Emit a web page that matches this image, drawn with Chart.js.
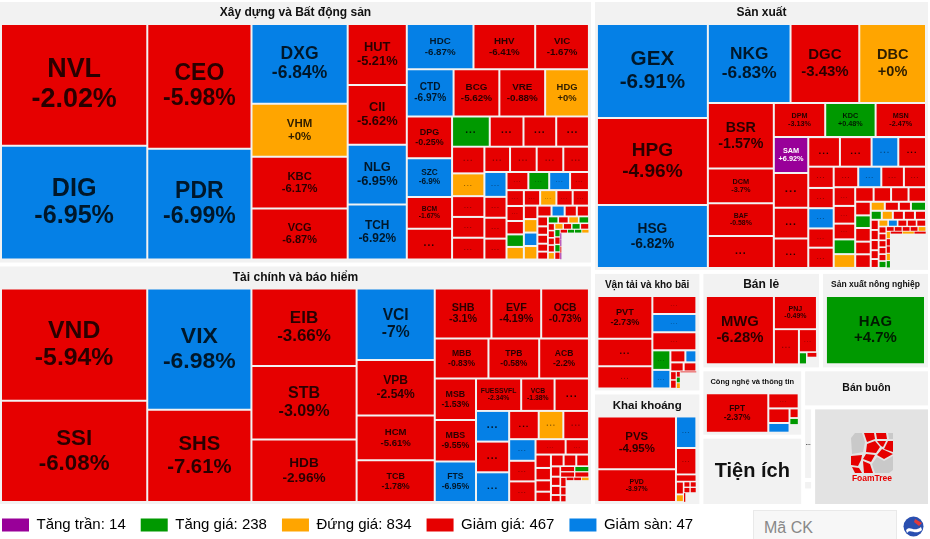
<!DOCTYPE html>
<html>
<head>
<meta charset="utf-8">
<title>Treemap</title>
<script src="https://cdn.jsdelivr.net/npm/chart.js@4/dist/chart.umd.min.js"></script>
<style>
  html, body { margin: 0; padding: 0; background: #fff; overflow: hidden; }
  #wrap { position: relative; width: 930px; height: 539px; font-family: "Liberation Sans", Arial, sans-serif; }
  #search { position: absolute; left: 753px; top: 510px; width: 132px; height: 29px; padding-left: 10px; line-height: 33px;
            background: #f7f7f7; border: 1px solid #e9e9e9; border-bottom: 0; box-sizing: content-box; color: #888; font-size: 16px; }
  #brand { position: absolute; left: 903px; top: 516px; }
  #foam { position: absolute; left: 848px; top: 432px; width: 48px; text-align: center; }
  #foam div { color: #e60000; font-size: 8.5px; font-weight: bold; line-height: 9px; margin-top: 0; }
</style>
</head>
<body>
<div id="wrap">
  <canvas id="chart" width="930" height="539"></canvas>
  <div id="foam">
    <svg width="44" height="42" viewBox="0 0 44 42" style="display:block;margin:0 auto">
      <path d="M5 1 L12 1 L15 10 L13 20 L2 22 L1 6 Z" fill="#c9c9c9"/>
      <path d="M14 1 L24 1 L25 7 L17 10 Z M26 1 L36 1 L37 7 L27 7 Z" fill="#e60000"/>
      <path d="M38 1 L43 1 L43 7 L39 7 Z" fill="#c9c9c9"/>
      <path d="M17 12 L25 9 L30 15 L26 21 L16 20 Z M27 9 L36 9 L33 15 L31 14 Z M38 9 L43 9 L43 20 L34 17 Z" fill="#e60000"/>
      <path d="M32 17 L43 22 L34 27 L27 23 Z M16 22 L25 23 L21 30 L13 27 Z M1 24 L12 23 L11 28 L8 34 L1 33 Z M13 29 L20 32 L23 41 L14 41 Z" fill="#e60000"/>
      <path d="M27 25 L34 29 L43 24 L43 38 L39 41 L25 41 L22 32 Z" fill="#c9c9c9"/>
      <path d="M2 35 L9 36 L12 41 L5 41 Z" fill="#e60000"/>
    </svg>
    <div>FoamTree</div>
  </div>
  <div id="search">Mã CK</div>
  <svg id="brand" width="21" height="21" viewBox="0 0 21 21">
    <circle cx="10.5" cy="10.5" r="10" fill="#2a4fb0"/>
    <path d="M3 14 C8 9 10 17 18 11 L19 14 C12 20 8 12 4 17 Z" fill="#fff"/>
    <path d="M12 3 L19 7 L16 10 L11 6 Z" fill="#e03a3a"/>
  </svg>
</div>
<script>
// d = giam, f = giam san, u = tang, n = dung, c = tang tran, - = not drawn
const legendLabels = ['Tăng trần', 'Tăng giá', 'Đứng giá', 'Giảm giá', 'Giảm sàn'];
const legendCounts = [14, 238, 834, 467, 47];
const legendCodes = ['c', 'u', 'n', 'd', 'f'];

const sectorNames = ['Xây dựng và Bất động sản', 'Tài chính và báo hiểm', 'Sản xuất', 'Vận tải và kho bãi', 'Khai khoáng',
  'Bán lẻ', 'Sản xuất nông nghiệp', 'Công nghệ và thông tin', 'Tiện ích', 'Bán buôn', '...', '', '', ''];
const sectorWeights = [[157378, 143693], [91664], [13074, 12315], [11651, 10628], [6851, 7054], [4826], [725, 105, 155], [11525]];

const xdNames = ['NVL', 'DIG', 'CEO', 'PDR', 'DXG', 'VHM', 'KBC', 'VCG', 'HUT', 'CII', 'NLG', 'TCH', 'HDC', 'HHV', 'VIC', 'CTD', 'BCG', 'VRE', 'HDG', 'DPG', 'SZC', 'BCM'];
const xdChanges = [-2.02, -6.95, -5.98, -6.99, -6.84, 0, -6.17, -6.87, -5.21, -5.62, -6.95, -6.92, -6.87, -6.41, -1.67, -6.97, -5.62, -0.88, 0, -0.25, -6.9, -1.67];
const xdStatus = 'df df fndd ddff fdd fddn dfdd uddd dnddd dddd fddd dufd dddun dndd dnfn dfdd ddddd udnu ddddn ndud udud duun ccdc-';
const xdWeights = [[17812, 16644], [13000, 11544], [7680, 5088, 4992, 4896], [3600, 3540, 3540, 3245],
  [3015, 2790, 2430], [2209, 2162, 2162, 2068], [1890, 1755, 1440, 1395], [1140, 1020, 990, 990],
  [864, 736, 672, 672, 704], [650, 675, 675, 650], [550, 462, 462, 462], [396, 378, 378, 342],
  [275, 261, 232, 218, 218], [252, 252, 252, 252], [182, 182, 182, 182], [154, 143, 132, 132],
  [105, 90, 95, 84, 84], [70, 70, 70, 70], [48, 48, 48, 48, 48], [52, 52, 52, 52], [42, 42, 42, 42], [26, 26, 26, 26], [8, 8, 8, 8], [728]];

const tcNames = ['VND', 'SSI', 'VIX', 'SHS', 'EIB', 'STB', 'HDB', 'VCI', 'VPB', 'HCM', 'TCB', 'SHB', 'EVF', 'OCB', 'MBB', 'TPB', 'ACB', 'MSB', 'MBS', 'FTS', 'FUESSVFL', 'VCB'];
const tcChanges = [-5.94, -6.08, -6.98, -7.61, -3.66, -3.09, -2.96, -7, -2.54, -5.61, -1.78, -3.1, -4.19, -0.73, -0.83, -0.58, -2.2, -1.53, -9.55, -6.95, -2.34, -1.38];
const tcStatus = 'dd fd ddd fddd ddd ddd ddf ddd fdf dnd fdd dd dddd ddd dddd du dd ddd ddn-';
const tcWeights = [[16498, 14892], [12688, 9672], [8190, 7770, 6615], [5616, 4368, 3510, 3276],
  [2850, 2500, 2400], [2160, 2040, 2000], [1722, 1722, 1681], [1472, 1088, 1120], [1023, 1023, 990],
  [840, 700, 728], [572, 546, 546], [465, 360], [208, 192, 176, 160], [150, 150, 150], [99, 88, 88, 66],
  [78, 78], [78, 78], [56, 48, 40], [25, 25, 25], [490]];

const sxNames = ['GEX', 'HPG', 'HSG', 'NKG', 'DGC', 'DBC', 'BSR', 'DCM', 'BAF', '...', 'DPM', 'KDC', 'MSN', 'SAM'];
const sxChanges = [-6.91, -4.96, -6.82, -6.83, -3.43, 0, -1.57, -3.7, -0.58, null, -3.13, 0.48, -2.47, 6.92];
const sxStatus = 'fdf fdn dddd dud cddd ddfd ddfdd dfdd dddun dddd duddd nddu unddd ddddd nfddd dddddu ddddn nddnu dnd-';
const sxWeights = [[10340, 9570, 6930], [6474, 5382, 5226], [4290, 2275, 2145, 2080], [1742, 1708, 1708],
  [1224, 1190, 1054, 1003], [928, 928, 783, 812], [536, 510, 510, 485, 510], [500, 470, 460, 450],
  [399, 378, 336, 315, 294], [266, 252, 252, 252], [210, 195, 210, 195, 210], [126, 126, 108, 135],
  [99, 99, 99, 99, 99], [80, 80, 80, 70, 70], [63, 63, 63, 63, 63], [52, 52, 52, 52, 52, 52],
  [38, 38, 38, 38, 38], [30, 30, 30, 30, 30], [30, 30, 30], [1200]];

const vtNames = ['PVT'];
const vtChanges = [-2.73];
const vtStatus = 'ddd d f d uf df dd dd dun d-';
const vtWeights = [[2338, 1513, 1210], [788], [810], [788], [351, 333], [180, 132], [120, 115], [51, 51], [22, 22, 22], [15], [258]];

const kkNames = ['PVS', 'PVD'];
const kkChanges = [-4.95, -3.97];
const kkStatus = 'dd f d d dn dd dd d-';
const kkWeights = [[4187, 2607], [651], [546], [147], [100, 60], [36, 36], [36, 36], [16], [100]];

const blNames = ['MWG', 'PNJ'];
const blChanges = [-6.28, -0.49];
const blStatus = 'd d d d u d-';
const blWeights = [[4624], [1419], [875], [414], [96], [50], [70]];

const nnNames = ['HAG'];
const nnChanges = [4.7];
const nnStatus = 'u';
const nnWeights = [[6400]];

const cnNames = ['FPT'];
const cnChanges = [-2.37];
const cnStatus = 'd d df d u-';
const cnWeights = [[2501], [465], [315, 210], [90], [63], [72]];

const statusColors = { c: '#990099', u: '#009900', n: '#ffa500', d: '#e60000', f: '#0580e6' };

const sectorCells = [
  [xdNames, xdChanges, xdStatus, xdWeights], [tcNames, tcChanges, tcStatus, tcWeights], [sxNames, sxChanges, sxStatus, sxWeights],
  [vtNames, vtChanges, vtStatus, vtWeights], [kkNames, kkChanges, kkStatus, kkWeights], [blNames, blChanges, blStatus, blWeights],
  [nnNames, nnChanges, nnStatus, nnWeights], [cnNames, cnChanges, cnStatus, cnWeights]
];

// title font and inner padding of each panel
const panelStyles = [
  { font: 12, pad: [1, 2, 3] }, { font: 12, pad: [1, 2, 2] }, { font: 12, pad: [2, 2, 2] },
  { font: 10, pad: [2.5, 3, 2] }, { font: 11.5, pad: [2.5, 3, 2] }, { font: 12, pad: [2.5, 2, 3] },
  { font: 8.5, pad: [3, 3, 3] }, { font: 7.5, pad: [2.5, 2.5, 2] }, { font: 20, centre: true }, { font: 10.5, centre: true },
  { font: 6, centre: true }, { centre: true }, null, { logo: true }
];

// squarified shape: each row runs along the shorter side of what is left
function sliceRows(rows, rect) {
  let { x0, y0, x1, y1 } = rect;
  let left = rows.flat().reduce((a, b) => a + b, 0);
  const out = [];
  rows.forEach(row => {
    const sum = row.reduce((a, b) => a + b, 0);
    const w = x1 - x0, h = y1 - y0;
    if (w < h) {
      const t = h * sum / left;
      let cx = x0;
      row.forEach(v => { const cw = w * v / sum; out.push({ x0: cx, x1: cx + cw, y0, y1: y0 + t }); cx += cw; });
      y0 += t;
    } else {
      const t = w * sum / left;
      let cy = y0;
      row.forEach(v => { const ch = h * v / sum; out.push({ x0, x1: x0 + t, y0: cy, y1: cy + ch }); cy += ch; });
      x0 += t;
    }
    left -= sum;
  });
  return out;
}

const panelRects = sliceRows(sectorWeights, { x0: -2, y0: 0, x1: 930, y1: 506 }).map(r =>
  ({ x0: r.x0 + 2, y0: r.y0 + 2, x1: r.x1 - 2, y1: r.y1 - 2 }));

const datasets = panelRects.map((panel, i) => {
  const label = sectorNames[i];
  const src = sectorCells[i];
  if (!src) return { label, data: [] };
  const [names, changes, status, weights] = src;
  const codes = status.replace(/\s/g, '');
  const [padX, padR, padB] = panelStyles[i].pad;
  const boxes = sliceRows(weights, { x0: panel.x0 + padX, y0: panel.y0 + 22, x1: panel.x1 - padR, y1: panel.y1 - padB });
  const data = [];
  boxes.forEach((b, k) => {
    if (codes[k] === '-' || codes[k] === undefined) return;
    data.push({ x: b.x0, y: b.y0, x1: b.x1, y1: b.y1, name: names[k] || '...', change: changes[k], code: codes[k] });
  });
  return { label, data, backgroundColor: data.map(p => statusColors[p.code]), borderWidth: 0 };
});

class TreemapController extends Chart.DatasetController {
  update(mode) {
    this.updateElements(this._cachedMeta.data, 0, this._cachedMeta.data.length, mode);
  }
  updateElements(rects, start, count, mode) {
    const { x: xScale, y: yScale } = this.chart.scales;
    const data = this.getDataset().data;
    for (let i = start; i < start + count; i++) {
      const p = data[i];
      let left = xScale.getPixelForValue(p.x), right = xScale.getPixelForValue(p.x1);
      let top = yScale.getPixelForValue(p.y), bottom = yScale.getPixelForValue(p.y1);
      const gap = Math.min(1, Math.min(right - left, bottom - top) * 0.12);
      left += gap; right -= gap; top += gap; bottom -= gap;
      this.updateElement(rects[i], i, {
        x: (left + right) / 2, y: top, base: bottom, width: Math.max(right - left, 0.5), horizontal: false,
        inflateAmount: 0, enableBorderRadius: true, borderSkipped: {}, options: this.resolveDataElementOptions(i, mode)
      }, mode);
    }
  }
  draw() {
    super.draw();
    const ctx = this.chart.ctx;
    const data = this.getDataset().data;
    ctx.save();
    ctx.textAlign = 'center';
    ctx.textBaseline = 'middle';
    this._cachedMeta.data.forEach((el, i) => {
      const p = data[i];
      const w = el.width, h = el.base - el.y;
      const side = Math.min(w, h);
      const cx = el.x, cy = (el.y + el.base) / 2;
      ctx.fillStyle = p.code === 'c' ? '#fff' : 'rgba(0,0,0,.82)';
      if (p.name === '...') {
        if (side < 13) return;
        ctx.font = 'bold ' + Math.min(side * 0.36, 13) + 'px "Liberation Sans"';
        ctx.fillStyle = side < 25 ? 'rgba(0,0,0,.4)' : 'rgba(0,0,0,.82)';
        ctx.letterSpacing = '1px';
        ctx.fillText('...', cx, cy - side * 0.04);
        ctx.letterSpacing = '0px';
        return;
      }
      const size = side * 0.225;
      ctx.font = 'bold ' + size + 'px "Liberation Sans"';
      const pct = (p.change >= 0 ? '+' : '') + p.change + '%';
      if (p.change === null) { ctx.fillText(p.name, cx, cy); return; }
      ctx.fillText(p.name, cx, cy - size * 0.55);
      ctx.fillText(pct, cx, cy + size * 0.55);
    });
    ctx.restore();
  }
}
TreemapController.id = 'treemap';
TreemapController.defaults = { dataElementType: 'bar', animation: false };
Chart.register(TreemapController, Chart.BarElement, Chart.LinearScale, Chart.Legend);

const panelsPlugin = {
  id: 'panels',
  afterLayout(chart) {
    chart.legend.top -= 3.5;
    chart.legend.left -= 13;
  },
  beforeDatasetsDraw(chart) {
    const { ctx, scales: { x, y } } = chart;
    ctx.save();
    ctx.textAlign = 'center';
    ctx.textBaseline = 'middle';
    panelRects.forEach((r, i) => {
      const style = panelStyles[i];
      if (!style) return;
      const left = x.getPixelForValue(r.x0), right = x.getPixelForValue(r.x1);
      const top = y.getPixelForValue(r.y0), bottom = y.getPixelForValue(r.y1);
      ctx.fillStyle = style.logo ? '#e3e3e3' : '#f2f2f2';
      ctx.fillRect(left, top, right - left, bottom - top);
      if (!sectorNames[i]) return;
      ctx.fillStyle = '#111';
      ctx.font = 'bold ' + style.font + 'px "Liberation Sans"';
      const cy = style.centre ? (top + bottom) / 2 : top + 11;
      ctx.fillText(sectorNames[i], (left + right) / 2, cy);
    });
    ctx.restore();
  }
};

new Chart(document.getElementById('chart'), {
  type: 'treemap',
  data: { datasets },
  plugins: [panelsPlugin],
  options: {
    responsive: false,
    animation: false,
    parsing: false,
    events: [],
    layout: { padding: 0 },
    scales: {
      x: { type: 'linear', min: 0, max: 930, display: false },
      y: { type: 'linear', min: 0, max: 506, reverse: true, display: false }
    },
    plugins: {
      colors: { enabled: false },
      tooltip: { enabled: false },
      legend: {
        position: 'bottom',
        align: 'start',
        maxHeight: 33,
        labels: {
          boxWidth: 27,
          boxHeight: 13,
          padding: 15,
          color: '#555',
          font: { family: '"Liberation Sans"', size: 15 },
          generateLabels: () => legendLabels.map((name, i) => ({
            text: name + ': ' + legendCounts[i],
            fillStyle: statusColors[legendCodes[i]],
            strokeStyle: statusColors[legendCodes[i]],
            lineWidth: 0,
            hidden: false,
            datasetIndex: 0
          }))
        }
      }
    }
  }
});
</script>
</body>
</html>
